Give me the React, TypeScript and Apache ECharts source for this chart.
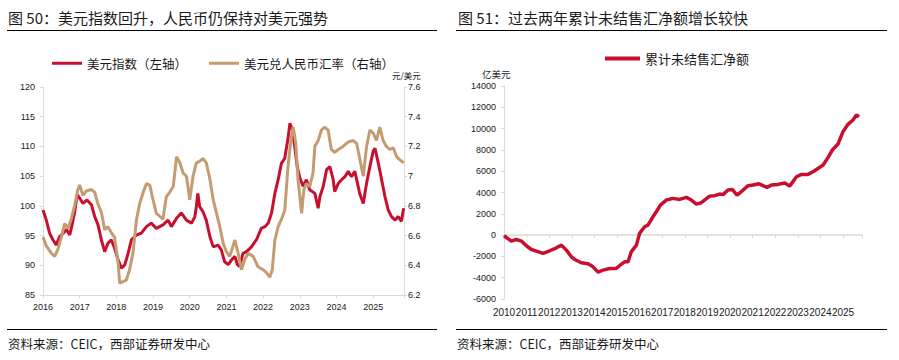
import React, { useEffect, useRef } from 'react';
import * as echarts from 'echarts';

// ---------- Figure 50: DXY (left axis) & USD/CNY (right axis) ----------
const dxyYears = [
  2016.0, 2016.09, 2016.18, 2016.27, 2016.36, 2016.45, 2016.55, 2016.64, 2016.73, 2016.77,
  2016.86, 2016.93, 2017.0, 2017.09, 2017.2, 2017.32, 2017.41, 2017.5, 2017.59, 2017.68,
  2017.77, 2017.86, 2017.95, 2018.05, 2018.14, 2018.23, 2018.32, 2018.41, 2018.55, 2018.68,
  2018.82, 2018.95, 2019.09, 2019.27, 2019.41, 2019.5, 2019.64, 2019.77, 2019.91, 2020.05,
  2020.14, 2020.18, 2020.22, 2020.27, 2020.36, 2020.45, 2020.55, 2020.64, 2020.77, 2020.86,
  2020.95, 2021.05, 2021.14, 2021.23, 2021.3, 2021.36, 2021.45, 2021.55, 2021.68, 2021.82,
  2021.95, 2022.05, 2022.14, 2022.23, 2022.32, 2022.41, 2022.5, 2022.59, 2022.68, 2022.73,
  2022.8, 2022.86, 2022.93, 2023.0, 2023.09, 2023.18, 2023.27, 2023.41, 2023.5, 2023.55,
  2023.64, 2023.73, 2023.82, 2023.91, 2023.95, 2024.05, 2024.14, 2024.23, 2024.32, 2024.41,
  2024.5, 2024.64, 2024.73, 2024.82, 2024.91, 2025.0, 2025.05, 2025.14, 2025.23, 2025.32,
  2025.41, 2025.5, 2025.6, 2025.68, 2025.77, 2025.83,
];
const dxyValues = [
  99.3, 97.6, 95.4, 94.3, 93.4, 94.8, 95.4, 96.0, 95.1, 96.2,
  98.8, 101.9, 101.3, 100.4, 101.0, 100.2, 98.2, 96.8, 94.3, 92.3,
  93.7, 94.3, 92.9, 90.9, 89.5, 90.1, 92.0, 94.3, 95.1, 95.4,
  96.5, 97.1, 96.2, 96.8, 97.6, 96.5, 97.9, 98.8, 97.6, 97.1,
  98.2, 99.9, 102.1, 99.9, 99.0, 97.6, 94.8, 93.1, 93.4, 92.6,
  90.6, 90.1, 90.9, 91.5, 90.1, 89.8, 92.0, 92.3, 93.1, 94.3,
  96.2, 96.5, 97.1, 98.8, 102.1, 104.4, 107.2, 108.0, 111.4, 113.9,
  112.8, 110.0, 106.6, 104.7, 103.3, 104.4, 102.7, 102.1, 99.6, 101.6,
  103.3, 106.1, 106.6, 104.4, 102.4, 103.8, 104.4, 104.9, 105.8, 104.9,
  105.8, 101.9, 100.4, 103.8, 106.6, 109.2, 109.7, 107.2, 104.4, 101.6,
  99.3, 98.2, 97.6, 98.2, 97.4, 99.6,
];
const cnyYears = [
  2016.0, 2016.09, 2016.23, 2016.32, 2016.41, 2016.5, 2016.59, 2016.68, 2016.77, 2016.86,
  2016.95, 2017.0, 2017.09, 2017.18, 2017.32, 2017.41, 2017.5, 2017.59, 2017.68, 2017.77,
  2017.86, 2017.95, 2018.05, 2018.09, 2018.18, 2018.27, 2018.36, 2018.45, 2018.55, 2018.64,
  2018.73, 2018.82, 2018.91, 2019.0, 2019.09, 2019.18, 2019.27, 2019.36, 2019.45, 2019.55,
  2019.64, 2019.73, 2019.82, 2019.91, 2020.0, 2020.09, 2020.18, 2020.27, 2020.36, 2020.45,
  2020.55, 2020.64, 2020.73, 2020.82, 2020.91, 2021.0, 2021.09, 2021.18, 2021.23, 2021.32,
  2021.41, 2021.5, 2021.59, 2021.73, 2021.86, 2022.0, 2022.09, 2022.18, 2022.25, 2022.32,
  2022.41, 2022.5, 2022.59, 2022.68, 2022.77, 2022.82, 2022.89, 2022.95, 2023.05, 2023.11,
  2023.18, 2023.27, 2023.36, 2023.41, 2023.5, 2023.59, 2023.68, 2023.77, 2023.86, 2023.95,
  2024.05, 2024.18, 2024.32, 2024.45, 2024.55, 2024.64, 2024.73, 2024.82, 2024.91, 2025.0,
  2025.09, 2025.18, 2025.27, 2025.36, 2025.45, 2025.55, 2025.64, 2025.73, 2025.83,
];
const cnyValues = [
  6.59, 6.53, 6.48, 6.46, 6.51, 6.59, 6.68, 6.65, 6.71, 6.80,
  6.91, 6.94, 6.87, 6.90, 6.91, 6.89, 6.81, 6.76, 6.64, 6.66,
  6.62, 6.59, 6.41, 6.28, 6.29, 6.30, 6.37, 6.48, 6.71, 6.82,
  6.89, 6.95, 6.94, 6.84, 6.75, 6.73, 6.71, 6.86, 6.89, 6.93,
  7.13, 7.09, 7.02, 7.00, 6.84, 7.00, 7.09, 7.10, 7.12, 7.09,
  6.98, 6.84, 6.75, 6.66, 6.55, 6.49, 6.46, 6.53, 6.57, 6.48,
  6.37, 6.44, 6.48, 6.46, 6.39, 6.37, 6.35, 6.32, 6.37, 6.57,
  6.66, 6.71, 6.77, 7.07, 7.27, 7.33, 7.22, 6.98, 6.75, 6.91,
  6.95, 6.93, 7.02, 7.20, 7.24, 7.31, 7.33, 7.31, 7.18, 7.16,
  7.18, 7.20, 7.23, 7.24, 7.22, 7.11, 7.00, 7.20, 7.31, 7.29,
  7.24, 7.33, 7.24, 7.20, 7.18, 7.19, 7.13, 7.11, 7.09,
];

// ---------- Figure 51: cumulative net unsettled FX (100m USD) ----------
const flowYears = [
  2010.0, 2010.32, 2010.55, 2010.77, 2010.99, 2011.21, 2011.43, 2011.73, 2012.02, 2012.32,
  2012.54, 2012.76, 2012.98, 2013.13, 2013.42, 2013.72, 2013.94, 2014.16, 2014.38, 2014.68,
  2014.97, 2015.12, 2015.34, 2015.49, 2015.63, 2015.86, 2016.0, 2016.22, 2016.37, 2016.59,
  2016.74, 2016.92, 2017.18, 2017.48, 2017.77, 2018.07, 2018.29, 2018.51, 2018.73, 2019.1,
  2019.32, 2019.54, 2019.69, 2019.91, 2020.1, 2020.31, 2020.58, 2020.8, 2021.02, 2021.28,
  2021.46, 2021.64, 2021.83, 2022.12, 2022.42, 2022.64, 2022.94, 2023.16, 2023.45, 2023.67,
  2023.89, 2024.12, 2024.34, 2024.53, 2024.78, 2024.88, 2025.0, 2025.22, 2025.44, 2025.59,
  2025.71,
];
const flowValues = [
  -60, -560, -410, -560, -1000, -1350, -1500, -1720, -1470, -1190,
  -940, -1410, -2040, -2290, -2600, -2690, -2980, -3480, -3290, -3130,
  -3130, -2850, -2510, -2510, -1570, -940, 160, 780, 940, 1720,
  2190, 2820, 3290, 3450, 3350, 3540, 3290, 2910, 3040, 3660,
  3700, 3850, 3800, 4230, 4290, 3760, 4230, 4640, 4700, 4820,
  4640, 4480, 4700, 4760, 4890, 4600, 5480, 5700, 5700, 5950,
  6260, 6580, 7300, 7990, 8550, 9080, 9710, 10400, 10810, 11280,
  11120,
];

const leftTitle = '图 50：美元指数回升，人民币仍保持对美元强势';
const rightTitle = '图 51：过去两年累计未结售汇净额增长较快';
const sourceText = '资料来源：CEIC，西部证券研发中心';
const dxyName = '美元指数（左轴）';
const cnyName = '美元兑人民币汇率（右轴）';
const flowName = '累计未结售汇净额';
const leftRightUnit = '元/美元';
const rightUnit = '亿美元';

const RED = '#C8102E';
const TAN = '#C39C72';
const AXIS = '#D9D9D9';
const TEXT = '#1a1a1a';
const FONT = "'Liberation Sans', 'Noto Sans CJK SC', sans-serif";

const pairs = (xs: number[], ys: number[]) => {
  const n = Math.min(xs.length, ys.length);
  return xs.slice(0, n).map((x, i) => [x, ys[i]]);
};

const yearFmt = (v: number) => (Math.abs(v - Math.round(v)) < 1e-6 ? String(Math.round(v)) : '');
const plainFmt = (v: number) => String(v);

export default function App() {
  const ref = useRef<HTMLDivElement>(null);
  useEffect(() => {
    const chart = echarts.init(ref.current as HTMLDivElement, null, { renderer: 'svg' });
    const lab = { color: TEXT, fontSize: 9, fontFamily: FONT };
    const axLine = { show: true, onZero: false, lineStyle: { color: AXIS, width: 1 } };
    const axTick = { show: true, length: 3, lineStyle: { color: AXIS } };
    const txt = (text: string, x: number, y: number, size: number, extra: any = {}) => ({
      type: 'text',
      x,
      y,
      silent: true,
      style: {
        text,
        font: `${size}px 'Noto Sans CJK SC', 'Liberation Sans', sans-serif`,
        fill: TEXT,
        textVerticalAlign: 'middle',
        verticalAlign: 'middle',
        ...extra,
      },
    });
    const hline = (x1: number, x2: number, y: number) => ({
      type: 'line',
      silent: true,
      shape: { x1, y1: y, x2, y2: y },
      style: { stroke: '#000', lineWidth: 1 },
    });

    chart.setOption({
      animation: false,
      backgroundColor: '#fff',
      textStyle: { fontFamily: FONT },
      grid: [
        { left: 43, top: 87, width: 361, height: 208, containLabel: false, outerBoundsMode: 'none' },
        { left: 504, top: 86, width: 358, height: 213, containLabel: false, outerBoundsMode: 'none' },
      ],
      legend: [
        {
          left: 52, top: 57, padding: 0, itemGap: 22, itemWidth: 30, itemHeight: 3, icon: 'rect',
          data: [dxyName, cnyName],
          textStyle: { color: TEXT, fontSize: 12.5, fontFamily: "'Noto Sans CJK SC', sans-serif" },
        },
        {
          left: 605, top: 52, padding: 0, itemWidth: 35, itemHeight: 4, icon: 'rect',
          data: [flowName],
          textStyle: { color: TEXT, fontSize: 13, fontFamily: "'Noto Sans CJK SC', sans-serif" },
        },
      ],
      xAxis: [
        {
          gridIndex: 0, type: 'value', position: 'bottom', min: 2016, max: 2025.84, interval: 1,
          axisLine: axLine, axisTick: axTick,
          axisLabel: { ...lab, margin: 7, formatter: yearFmt },
          splitLine: { show: false },
        },
        {
          gridIndex: 1, type: 'value', position: 'bottom', min: 2010, max: 2025.84, interval: 1,
          axisLine: { show: false, onZero: false }, axisTick: { show: false },
          axisLabel: { ...lab, fontSize: 10, margin: 8, formatter: yearFmt },
          splitLine: { show: false },
        },
        {
          gridIndex: 1, type: 'value', position: 'top', min: 2010, max: 2025.84, interval: 1,
          axisLine: { show: true, onZero: true, lineStyle: { color: AXIS, width: 1.5 } },
          axisTick: { show: true, inside: true, length: 3, lineStyle: { color: AXIS } },
          axisLabel: { show: false },
          splitLine: { show: false },
        },
      ],
      yAxis: [
        {
          gridIndex: 0, type: 'value', position: 'left', min: 85, max: 120, interval: 5,
          axisLine: axLine, axisTick: axTick, axisLabel: { ...lab, margin: 8, formatter: plainFmt },
          splitLine: { show: false },
        },
        {
          gridIndex: 0, type: 'value', position: 'right', min: 6.2, max: 7.6, interval: 0.2,
          axisLine: axLine, axisTick: axTick, axisLabel: { ...lab, margin: 4 },
          splitLine: { show: false },
        },
        {
          gridIndex: 1, type: 'value', position: 'left', min: -6000, max: 14000, interval: 2000,
          axisLine: axLine, axisTick: axTick, axisLabel: { ...lab, margin: 8, formatter: plainFmt },
          splitLine: { show: false },
        },
      ],
      series: [
        {
          type: 'line', name: dxyName, xAxisIndex: 0, yAxisIndex: 0,
          data: pairs(dxyYears, dxyValues), showSymbol: false, symbol: 'none',
          lineStyle: { color: RED, width: 3 }, itemStyle: { color: RED },
        },
        {
          type: 'line', name: cnyName, xAxisIndex: 0, yAxisIndex: 1,
          data: pairs(cnyYears, cnyValues), showSymbol: false, symbol: 'none',
          lineStyle: { color: TAN, width: 3 }, itemStyle: { color: TAN },
        },
        {
          type: 'line', name: flowName, xAxisIndex: 1, yAxisIndex: 2,
          data: pairs(flowYears, flowValues), showSymbol: false, symbol: 'none',
          lineStyle: { color: RED, width: 3.5 }, itemStyle: { color: RED },
        },
      ],
      graphic: {
        elements: [
          txt(leftTitle, 8, 17, 15),
          txt(rightTitle, 458, 17, 15),
          hline(7, 437, 30.5),
          hline(456, 887, 30.5),
          hline(7, 437, 329.5),
          hline(456, 887, 329.5),
          txt(sourceText, 8, 343, 12.5),
          txt(sourceText, 457, 343, 12.5),
          txt(leftRightUnit, 392, 75, 8.5),
          txt(rightUnit, 482, 74, 9.5),
        ],
      },
    });
    return () => chart.dispose();
  }, []);
  return (
    <div
      ref={ref}
      style={{ position: 'absolute', left: 0, top: 0, width: 899, height: 360, background: '#fff' }}
    />
  );
}
